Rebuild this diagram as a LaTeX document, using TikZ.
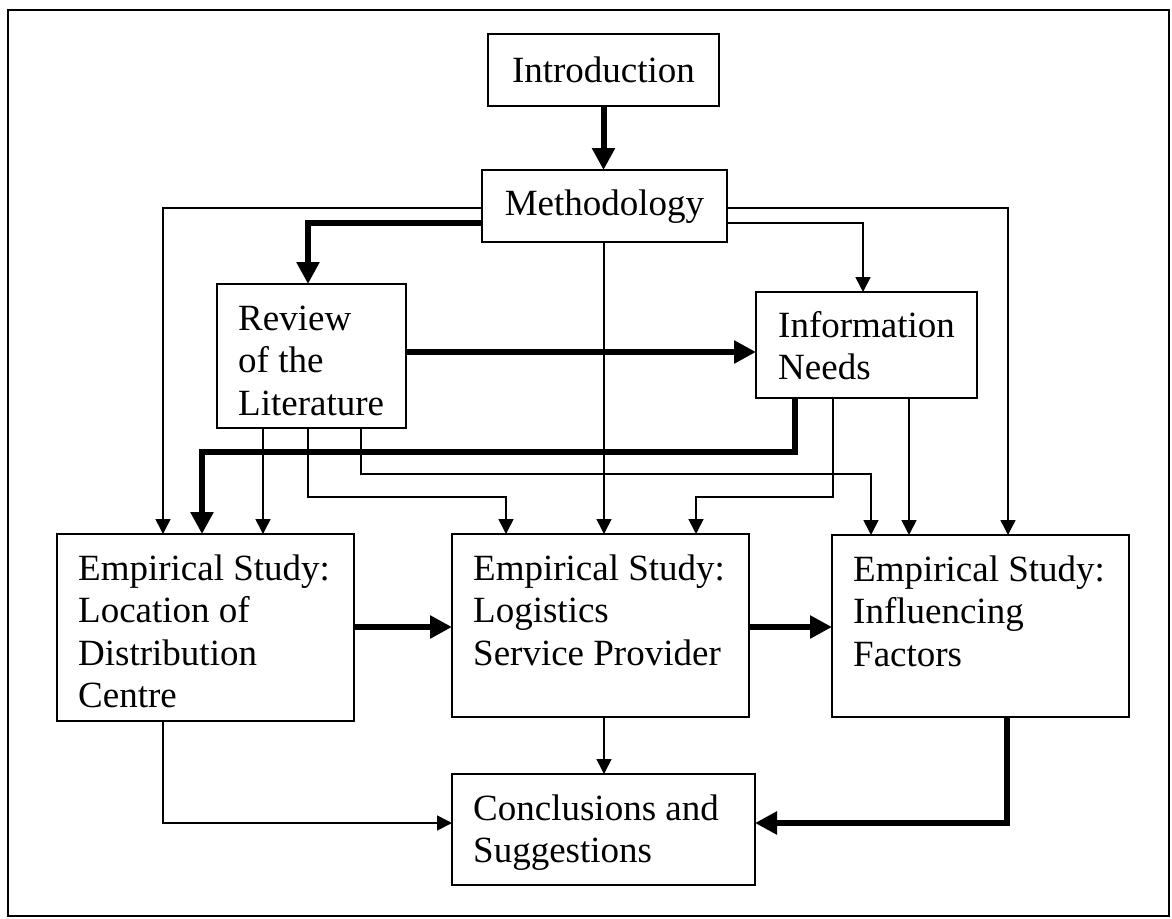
\documentclass[tikz,border=0pt]{standalone}
\usepackage{fontspec}
\setmainfont{Liberation Serif}
\usetikzlibrary{arrows.meta}
\begin{document}
\begin{tikzpicture}[x=1pt,y=-1pt,
  box/.style={draw, line width=1.8pt, rectangle, inner sep=0pt, outer sep=0pt},
  % multi-line labels are placed by the baseline of their last line
  lbl/.style={inner sep=0pt, anchor=base west, align=left, font=\fontsize{37}{42.5}\selectfont},
  ctr/.style={inner sep=0pt, anchor=base, font=\fontsize{37}{42.5}\selectfont},
  link/.style={line width=1.6pt, -{Triangle[length=15pt,width=15pt]}},
  flow/.style={line width=6pt, -{Triangle[length=22pt,width=22pt]}}]
\useasboundingbox (0,0) rectangle (1172,918);
\draw[line width=1.8pt] (8,10) rectangle (1169,916);

% boxes
\node[box, minimum width=231pt, minimum height=72pt]  (intro)  at (603.5,70)  {};
\node[box, minimum width=245pt, minimum height=72pt]  (meth)   at (604.5,206) {};
\node[box, minimum width=189pt, minimum height=144pt] (review) at (311.5,356) {};
\node[box, minimum width=221pt, minimum height=106pt] (info)   at (866.5,345) {};
\node[box, minimum width=297pt, minimum height=187pt] (emp1)   at (205.5,627.5) {};
\node[box, minimum width=297pt, minimum height=183pt] (emp2)   at (600.5,625.5) {};
\node[box, minimum width=297pt, minimum height=182pt] (emp3)   at (980.5,626) {};
\node[box, minimum width=303pt, minimum height=111pt] (concl)  at (603.5,829.5) {};

% texts
\node[ctr] (tintro)  at (603.5,82)  {Introduction};
\node[ctr] (tmeth)   at (604.5,215) {Methodology};
\node[lbl] (treview) at (238,415)   {Review\\of the\\Literature};
\node[lbl] (tinfo)   at (778,379.5) {Information\\Needs};
\node[lbl] (temp1)   at (78,707.5)  {Empirical Study:\\Location of\\Distribution\\Centre};
\node[lbl] (temp2)   at (473,665)   {Empirical Study:\\Logistics\\Service Provider};
\node[lbl] (temp3)   at (853,666)   {Empirical Study:\\Influencing\\Factors};
\node[lbl] (tconcl)  at (473,862.5) {Conclusions and\\Suggestions};

% thin connectors
\draw[link] (meth.west |- 0,208) -| (emp1.north -| 163,0);
\draw[link] (meth.east |- 0,208) -| (emp3.north -| 1008,0);
\draw[link] (meth.east |- 0,223) -| (info.north -| 863,0);
\draw[link] (meth.south -| 604,0) -- (emp2.north -| 604,0);
\draw[link] (review.south -| 263,0) -- (emp1.north -| 263,0);
\draw[link] (review.south -| 308,0) |- (506,497) -- (emp2.north -| 506,0);
\draw[link] (review.south -| 361,0) |- (871,474) -- (emp3.north -| 871,0);
\draw[link] (info.south -| 833,0) |- (696,497) -- (emp2.north -| 696,0);
\draw[link] (info.south -| 909,0) -- (emp3.north -| 909,0);
\draw[link] (emp2.south -| 604,0) -- (concl.north -| 604,0);
\draw[link] (emp1.south -| 163,0) |- (concl.west |- 0,823);

% main flow
\draw[flow] (intro.south) -- (intro.south |- meth.north);
\draw[flow] (meth.west |- 0,223) -| (review.north -| 308,0);
\draw[flow] (review.east |- 0,352) -- (info.west |- 0,352);
\draw[flow] (info.south -| 795,0) -- (795,452) -| (emp1.north -| 202,0);
\draw[flow] (emp1.east |- 0,627) -- (emp2.west |- 0,627);
\draw[flow] (emp2.east |- 0,627) -- (emp3.west |- 0,627);
\draw[flow] (emp3.south -| 1007,0) |- (concl.east |- 0,823);
\end{tikzpicture}
\end{document}
